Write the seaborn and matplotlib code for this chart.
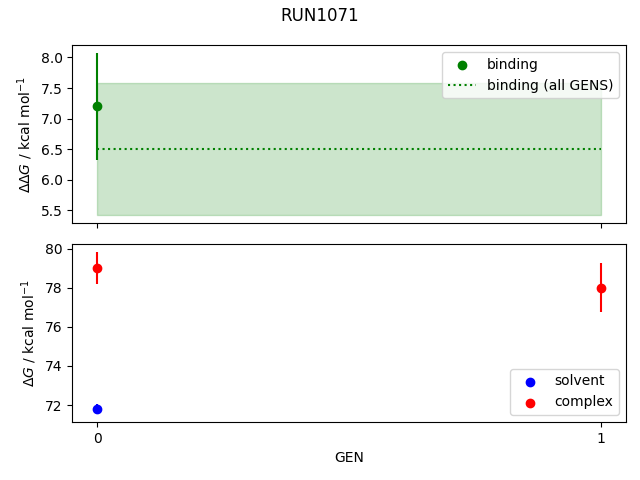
import numpy as np
import pandas as pd
import matplotlib
matplotlib.use("Agg")
import matplotlib.pyplot as plt
import seaborn as sns

# Free energies per generation
gens = [0, 1]
binding = [7.2, np.nan]
binding_err = [0.87, np.nan]
binding_all = 6.5
binding_all_err = 1.08
solvent = [71.8, np.nan]
solvent_err = [0.25, np.nan]
complex_ = [79.0, 78.0]
complex_err = [0.83, 1.25]

df = pd.DataFrame({"GEN": gens, "binding": binding, "binding_err": binding_err,
                   "solvent": solvent, "solvent_err": solvent_err,
                   "complex": complex_, "complex_err": complex_err})

fig, (ax1, ax2) = plt.subplots(2, 1, sharex=True, figsize=(6.4, 4.8))
fig.suptitle("RUN1071", y=0.985)

# top: binding
ax1.errorbar(df["GEN"], df["binding"], yerr=df["binding_err"], fmt="none", color="green")
sns.scatterplot(data=df, x="GEN", y="binding", color="green", edgecolor="green",
                s=36, linewidth=1, ax=ax1, label="binding")
x_all = [min(gens), max(gens)]
ax1.plot(x_all, [binding_all] * 2, color="green", linestyle=":", label="binding (all GENS)")
ax1.fill_between(x_all, binding_all - binding_all_err, binding_all + binding_all_err,
                 color="green", alpha=0.2)
ax1.set_ylabel(r"$\Delta\Delta G$ / kcal mol$^{-1}$")
ax1.set_xlabel("")
ax1.legend(loc="upper right")

# bottom: solvent and complex legs
ax2.errorbar(df["GEN"], df["solvent"], yerr=df["solvent_err"], fmt="none", color="blue")
sns.scatterplot(data=df, x="GEN", y="solvent", color="blue", edgecolor="blue",
                s=36, linewidth=1, ax=ax2, label="solvent")
ax2.errorbar(df["GEN"], df["complex"], yerr=df["complex_err"], fmt="none", color="red")
sns.scatterplot(data=df, x="GEN", y="complex", color="red", edgecolor="red",
                s=36, linewidth=1, ax=ax2, label="complex")
ax2.set_ylabel(r"$\Delta G$ / kcal mol$^{-1}$")
ax2.set_xlabel("GEN")
ax2.set_xticks(gens)
ax2.legend(loc="lower right")

fig.subplots_adjust(left=0.113, right=0.978, top=0.906, bottom=0.121, hspace=0.116)
fig.savefig("out.png", dpi=100)
